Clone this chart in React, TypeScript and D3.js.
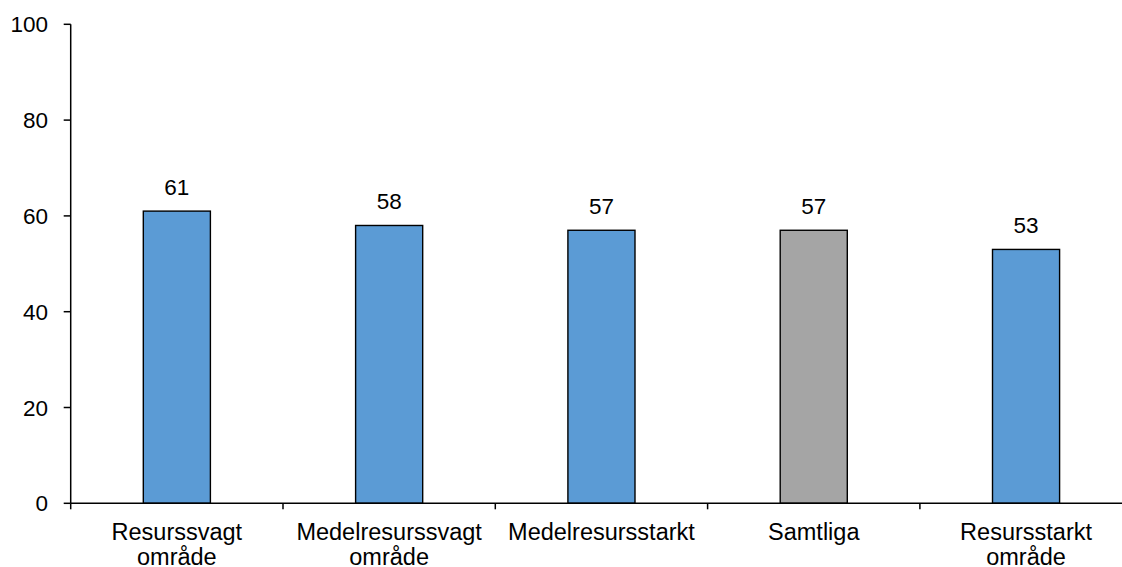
import React from "react";
import * as d3 from "d3";

const categories = ["Resurssvagt område", "Medelresurssvagt område", "Medelresursstarkt", "Samtliga", "Resursstarkt område"];
const labelLines = [["Resurssvagt", "område"], ["Medelresurssvagt", "område"], ["Medelresursstarkt"], ["Samtliga"], ["Resursstarkt", "område"]];
const values = [61, 58, 57, 57, 53];
const barColors = ["#5B9BD5", "#5B9BD5", "#5B9BD5", "#A5A5A5", "#5B9BD5"];
const yTicks = [0, 20, 40, 60, 80, 100];

const W = 1122;
const H = 567;
const FONT = "Liberation Sans, Arial, sans-serif";

export default function App() {
  const x = d3.scaleBand<string>().domain(categories).range([70.7, 1132.2]).paddingInner(0.684).paddingOuter(0.342);
  const y = d3.scaleLinear().domain([0, 100]).range([503.3, 24.3]);
  const step = x.step();
  const bw = x.bandwidth();
  const boundaries = categories.map((c) => (x(c) as number) - (step - bw) / 2);
  boundaries.push(boundaries[boundaries.length - 1] + step);
  const x0 = x.range()[0];
  const y0 = y(0);

  return (
    <svg width={W} height={H} style={{ position: "absolute", left: 0, top: 0, background: "#fff" }} fontFamily={FONT}>
      <rect x={0} y={0} width={W} height={H} fill="#fff" />
      {categories.map((c, i) => (
        <rect key={c} x={x(c)} y={y(values[i])} width={bw} height={y0 - y(values[i])} fill={barColors[i]} stroke="#000" strokeWidth={1.4} />
      ))}
      {categories.map((c, i) => (
        <text key={"v" + c} x={(x(c) as number) + bw / 2} y={y(values[i]) - 16} textAnchor="middle" fontSize={22.5} fill="#000">
          {values[i]}
        </text>
      ))}
      {/* y axis */}
      <line x1={x0} x2={x0} y1={y(100)} y2={y0} stroke="#000" strokeWidth={1.5} />
      {yTicks.map((t) => (
        <g key={"yt" + t}>
          <line x1={x0 - 7} x2={x0} y1={y(t)} y2={y(t)} stroke="#000" strokeWidth={1.5} />
          <text x={48} y={y(t)} dy="0.36em" textAnchor="end" fontSize={22.5} fill="#000">
            {t}
          </text>
        </g>
      ))}
      {/* x axis */}
      <line x1={x0} x2={x.range()[1]} y1={y0} y2={y0} stroke="#000" strokeWidth={1.5} />
      {boundaries.map((b, i) => (
        <line key={"xt" + i} x1={b} x2={b} y1={y0} y2={y0 + 6} stroke="#000" strokeWidth={1.5} />
      ))}
      {categories.map((c, i) => (
        <text key={"l" + c} textAnchor="middle" fontSize={23.5} fill="#000">
          {labelLines[i].map((ln, j) => (
            <tspan key={j} x={(x(c) as number) + bw / 2} y={539.5 + j * 25}>
              {ln}
            </tspan>
          ))}
        </text>
      ))}
    </svg>
  );
}
